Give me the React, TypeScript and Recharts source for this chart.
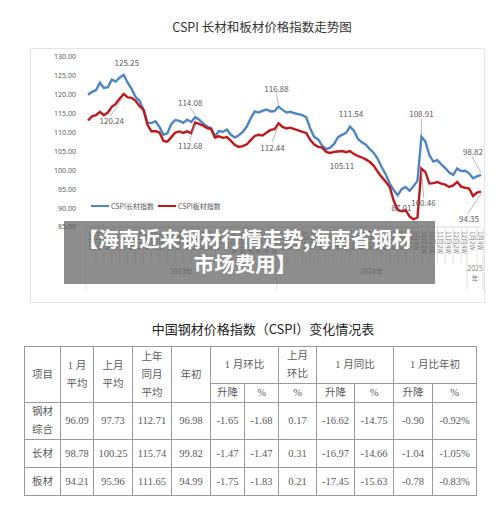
import React from "react";
import { LineChart, Line, XAxis, YAxis, Legend } from "recharts";

// x axis categories
const months = ["1月", "2月", "3月", "4月", "5月", "6月", "7月", "8月", "9月", "10月", "11月", "12月"];
const weekTags = ["1W", "2W", "3W", "4W"];
const years = ["2023年", "2024年", "2025年"];
const weeksPerYear = [48, 48, 4];

// CSPI 长材指数 (weekly)
const longIndex = [
  120.0, 120.8, 121.2, 123.2, 121.8, 122.0, 124.0, 123.5, 124.6, 125.25,
  123.2, 121.5, 119.4, 118.4, 116.0, 112.6, 112.5, 113.0, 111.5, 109.4,
  109.8, 112.3, 113.3, 113.1, 112.6, 113.4, 112.8, 114.08, 113.4, 112.4,
  111.6, 111.2, 109.0, 110.4, 110.2, 110.8, 109.4, 108.7, 109.3, 110.2,
  111.6, 113.8, 115.6, 115.3, 115.8, 116.1, 115.6, 115.7, 116.88, 116.0,
  115.3, 115.5, 115.1, 114.9, 114.6, 114.0, 111.0, 108.8, 108.2, 106.5,
  105.6, 106.0, 107.0, 108.8, 109.4, 109.9, 111.54, 110.5, 108.3, 107.4,
  106.8, 105.6, 104.6, 103.0, 100.8, 98.9, 96.5, 94.8, 93.4, 95.0,
  95.6, 94.6, 95.8, 97.2, 108.91, 107.6, 104.0, 102.3, 102.7, 101.6,
  100.6, 99.4, 98.8, 100.5, 99.8, 99.9, 99.2, 97.9, 98.4, 98.82,
];

// CSPI 板材指数 (weekly)
const plateIndex = [
  113.2, 114.3, 114.6, 115.5, 114.6, 115.3, 116.8, 117.6, 119.0, 120.24,
  119.3, 119.2, 118.4, 117.0, 116.0, 112.0, 110.3, 110.4, 110.0, 107.8,
  107.6, 108.8, 110.0, 110.3, 109.9, 110.3, 109.8, 112.68, 112.3, 111.8,
  111.2, 110.9, 108.7, 109.0, 108.6, 108.8, 107.8, 106.7, 106.2, 106.4,
  106.9, 108.0, 109.1, 109.4, 109.2, 110.0, 110.7, 110.9, 112.44, 111.5,
  111.1, 111.3, 110.9, 110.6, 110.2, 109.9, 108.0, 106.8, 106.2, 106.0,
  104.9, 104.6, 104.9, 105.0, 105.1, 104.8, 105.11, 104.3, 103.8, 103.4,
  102.9, 102.2, 101.2, 99.6, 98.2, 97.0, 95.6, 92.0, 89.5, 89.2,
  89.5, 87.8, 87.01, 87.5, 100.46, 99.5, 96.5, 96.6, 96.9, 96.5,
  96.2, 95.6, 96.0, 96.9, 95.7, 95.4, 95.2, 93.2, 94.1, 94.35,
];

const yTicks = [85, 90, 95, 100, 105, 110, 115, 120, 125, 130];
const seriesOrder = ["CSPI长材指数", "CSPI板材指数"];

// callout placement (label offset from the point, px)
const longCallouts: Record<number, [number, number]> = {
  9: [3, -12], 27: [-5, -15], 48: [-2, -18], 66: [1, -13], 84: [0, -23], 99: [-8, -23],
};
const plateCallouts: Record<number, [number, number]> = {
  9: [-12, 27], 27: [-5, 23], 48: [-6, 24], 66: [-8, 14], 82: [-12, -12], 84: [2, 34], 99: [-12, 27],
};

// table
const tableRows = ["钢材\n综合", "长材", "板材"];
const tableValues = [
  ["96.09", "97.73", "112.71", "96.98", "-1.65", "-1.68", "0.17", "-16.62", "-14.75", "-0.90", "-0.92%"],
  ["98.78", "100.25", "115.74", "99.82", "-1.47", "-1.47", "0.31", "-16.97", "-14.66", "-1.04", "-1.05%"],
  ["94.21", "95.96", "111.65", "94.99", "-1.75", "-1.83", "0.21", "-17.45", "-15.63", "-0.78", "-0.83%"],
];
const colWidths = [36, 33, 39, 39, 39, 34, 34, 38, 38, 39, 39, 44];

const data: { week: string; year: string; long: number; plate: number }[] = [];
const yearStarts: number[] = [];
{
  let k = 0;
  years.forEach((yr, yi) => {
    yearStarts.push(k);
    for (let w = 0; w < weeksPerYear[yi]; w++) {
      data.push({
        week: months[Math.floor(w / 4)] + weekTags[w % 4],
        year: yr,
        long: longIndex[k],
        plate: plateIndex[k],
      });
      k++;
    }
  });
}

const BLUE = "#4f85c0";
const RED = "#be1a1d";
const GRID = "#d9d9d9";
const TXT = "#595959";
const CJK = "'Noto Sans CJK SC', 'Noto Sans', sans-serif";

const makeCallout = (spec: Record<number, [number, number]>) => (props: any) => {
  const { cx, cy, index, value } = props;
  const s = spec[index];
  if (!s || cx == null) return <g key={`d${index}`} />;
  const [dx, dy] = s;
  const lx = cx + dx;
  const ly = cy + dy;
  const sign = dy < 0 ? -1 : 1;
  return (
    <g key={`d${index}`}>
      {Math.abs(dy) > 14 && (
        <line x1={cx} y1={cy + sign * 2} x2={lx + dx * 0.1} y2={ly - sign * 5} stroke="#a6a6a6" strokeWidth={0.8} />
      )}
      <text x={lx} y={ly} fontSize={8} fill={TXT} textAnchor="middle" dominantBaseline="central" fontFamily={CJK}>
        {Number(Array.isArray(value) ? value[1] : value).toFixed(2)}
      </text>
    </g>
  );
};

const AxisTick = (props: any) => {
  const { x, y, payload } = props;
  const i = payload.index as number;
  const els: React.ReactNode[] = [];
  const top = y + 1;
  if (i % 2 === 1) {
    els.push(
      <text key="t" x={0} y={0} transform={`translate(${x},${top + 3}) rotate(90)`} fontSize={6.5}
        fill="#7f7f7f" textAnchor="start" dominantBaseline="central" fontFamily={CJK}>
        {data[i].week}
      </text>
    );
  } else if (!yearStarts.includes(i)) {
    els.push(<line key="s" x1={x} x2={x} y1={top} y2={top + 35} stroke={GRID} strokeWidth={0.8} />);
  }
  yearStarts.forEach((st, yi) => {
    const n = weeksPerYear[yi];
    if (i === st) {
      els.push(<line key="ys" x1={x - 2} x2={x - 2} y1={top} y2={top + 62} stroke={GRID} strokeWidth={0.8} />);
    }
    if (i === st + n - 1 && yi === years.length - 1) {
      els.push(<line key="ye" x1={x + 2} x2={x + 2} y1={top} y2={top + 62} stroke={GRID} strokeWidth={0.8} />);
    }
    if (i === st + Math.floor(n / 2)) {
      const label = years[yi];
      if (n < 10) {
        els.push(
          <text key="y" x={x - 2} y={top + 43} fontSize={7} fill="#7f7f7f" textAnchor="middle" fontFamily={CJK}>
            <tspan x={x - 2}>{label.slice(0, 4)}</tspan>
            <tspan x={x - 2} dy={10}>{label.slice(4)}</tspan>
          </text>
        );
      } else {
        els.push(
          <text key="y" x={x - 2} y={top + 46} fontSize={7} fill="#7f7f7f" textAnchor="middle" fontFamily={CJK}>
            {label}
          </text>
        );
      }
    }
  });
  return <g>{els}</g>;
};

const LegendContent = (props: any) => {
  const payload = [...(props.payload || [])].sort(
    (a: any, b: any) => seriesOrder.indexOf(a.value) - seriesOrder.indexOf(b.value)
  );
  return (
    <div style={{ display: "flex", alignItems: "center", fontFamily: CJK, fontSize: 7, color: TXT }}>
      {payload.map((p: any) => (
        <div key={p.value} style={{ display: "flex", alignItems: "center", marginRight: 4 }}>
          <div style={{ width: 18, height: 2.5, background: p.color, marginRight: 2 }} />
          <span>{p.value}</span>
        </div>
      ))}
    </div>
  );
};

const cell: React.CSSProperties = {
  border: "1px solid #9a9a9a",
  padding: 0,
  textAlign: "center",
  verticalAlign: "middle",
  whiteSpace: "pre-line",
};

export default function App() {
  return (
    <div style={{ position: "absolute", left: 0, top: 0, width: 500, height: 505, background: "#fff", overflow: "hidden" }}>
      <div style={{ position: "absolute", left: 0, top: 19, width: 524, textAlign: "center", fontFamily: CJK, fontSize: 12.5, lineHeight: "16px", color: "#333" }}>
        CSPI 长材和板材价格指数走势图
      </div>
      <div style={{ position: "absolute", left: 30, top: 48, width: 455, height: 255, border: "1px solid #e3e3e3", boxSizing: "border-box" }} />
      <div style={{ position: "absolute", left: 0, top: 0 }}>
        <LineChart width={500} height={300} data={data} margin={{ top: 57, right: 19, bottom: 8, left: 0 }}>
          <XAxis dataKey="week" interval={0} height={65} tickSize={0} tickMargin={0} tick={<AxisTick />}
            axisLine={{ stroke: GRID }} />
          <YAxis domain={[85, 130]} ticks={yTicks} width={88} axisLine={false} tickLine={false} tickMargin={6}
            tick={{ fontSize: 7, fill: TXT, fontFamily: "'Noto Sans', sans-serif" }}
            tickFormatter={(v: number) => v.toFixed(2)} />
          <Legend verticalAlign="middle" align="center" content={<LegendContent />}
            wrapperStyle={{ left: 91, top: 201, width: 170, height: 10 }} />
          <Line name="CSPI长材指数" dataKey="long" stroke={BLUE} strokeWidth={2.4} dot={makeCallout(longCallouts)}
            activeDot={false} isAnimationActive={false} />
          <Line name="CSPI板材指数" dataKey="plate" stroke={RED} strokeWidth={2.4} dot={makeCallout(plateCallouts)}
            activeDot={false} isAnimationActive={false} />
        </LineChart>
      </div>

      <div style={{ position: "absolute", left: 64, top: 221, width: 371, height: 63, background: "rgba(92,92,92,0.7)" }}>
        <div style={{ paddingTop: 5, paddingRight: 9, textAlign: "center", color: "#fff", fontWeight: 700, fontSize: 20.5, lineHeight: "25px", fontFamily: CJK }}>
          【海南近来钢材行情走势,海南省钢材<br />市场费用】
        </div>
      </div>

      <div style={{ position: "absolute", left: 0, top: 320, width: 526, textAlign: "center", fontFamily: CJK, fontSize: 13, lineHeight: "18px", color: "#222" }}>
        中国钢材价格指数（CSPI）变化情况表
      </div>

      <table style={{ position: "absolute", left: 24, top: 346, width: 452, borderCollapse: "collapse", tableLayout: "fixed",
        fontFamily: "'Liberation Serif', 'Noto Sans CJK SC', serif", fontSize: 10.5, color: "#5a5a5a", lineHeight: "18px" }}>
        <colgroup>
          {colWidths.map((w, i) => <col key={i} style={{ width: w }} />)}
        </colgroup>
        <tbody>
          <tr style={{ height: 37 }}>
            <td style={cell} rowSpan={2}>项目</td>
            <td style={cell} rowSpan={2}>{"1 月\n平均"}</td>
            <td style={cell} rowSpan={2}>{"上月\n平均"}</td>
            <td style={cell} rowSpan={2}>{"上年\n同月\n平均"}</td>
            <td style={cell} rowSpan={2}>年初</td>
            <td style={cell} colSpan={2}>1 月环比</td>
            <td style={cell}>{"上月\n环比"}</td>
            <td style={cell} colSpan={2}>1 月同比</td>
            <td style={cell} colSpan={2}>1 月比年初</td>
          </tr>
          <tr style={{ height: 19 }}>
            <td style={cell}>升降</td>
            <td style={cell}>%</td>
            <td style={cell}>%</td>
            <td style={cell}>升降</td>
            <td style={cell}>%</td>
            <td style={cell}>升降</td>
            <td style={cell}>%</td>
          </tr>
          {tableRows.map((name, r) => (
            <tr key={name} style={{ height: r === 0 ? 37 : 28 }}>
              <td style={cell}>{name}</td>
              {tableValues[r].map((v, c) => (
                <td key={c} style={cell}>{v}</td>
              ))}
            </tr>
          ))}
        </tbody>
      </table>
    </div>
  );
}
